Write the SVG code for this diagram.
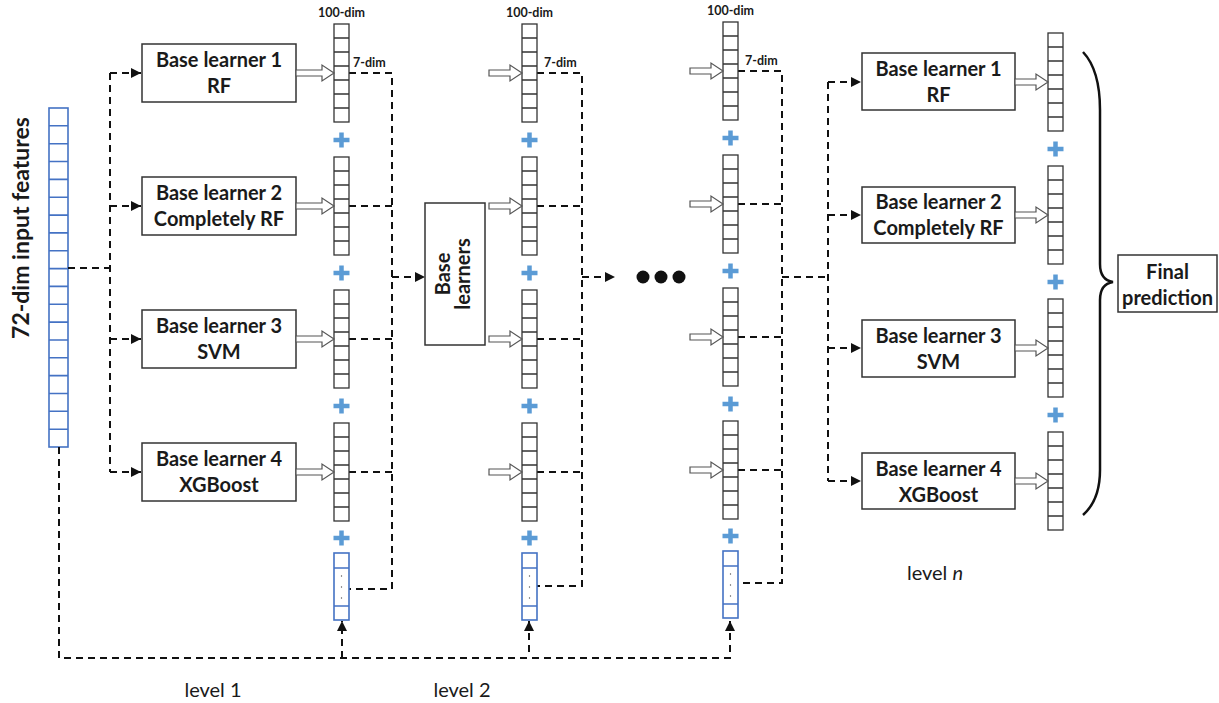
<svg xmlns="http://www.w3.org/2000/svg" xmlns:xlink="http://www.w3.org/1999/xlink" width="1219" height="703" viewBox="0 0 1219 703">
<style>
.t{font-family:Lato,"Liberation Sans",sans-serif;font-weight:bold;fill:#1a1a1a}
.bt{font-family:Lato,"Liberation Sans",sans-serif;font-weight:bold;fill:#1a1a1a;font-size:20px;text-anchor:middle}
.sm{font-family:Lato,"Liberation Sans",sans-serif;font-weight:bold;fill:#1a1a1a;font-size:12.5px}
.box{fill:#fff;stroke:#333;stroke-width:1.5}
.cell{fill:#fff;stroke:#333;stroke-width:1.3}
.bcell{fill:#fff;stroke:#4472C4;stroke-width:1.6}
.dash{fill:none;stroke:#111;stroke-width:2;stroke-dasharray:7,5}
.ha{fill:#fff;stroke:#555;stroke-width:1.2}
.plus{stroke:#5B9BD5;stroke-width:4.5;fill:none}
.lvl{font-family:Lato,"Liberation Sans",sans-serif;font-size:20px;fill:#1a1a1a;text-anchor:middle}
</style>
<defs>
<marker id="ah" viewBox="0 0 10 10" refX="10" refY="5" markerWidth="5" markerHeight="5" orient="auto" markerUnits="strokeWidth">
<path d="M0,0L10,5L0,10z" fill="#111"/>
</marker>
<g id="vec">
<rect class="cell" x="0" y="0" width="15" height="98"/>
<path d="M0,14H15M0,28H15M0,42H15M0,56H15M0,70H15M0,84H15" stroke="#333" stroke-width="1.3"/>
</g>
<g id="bvec">
<rect class="bcell" x="0" y="0" width="15" height="67"/>
<path d="M0,15H15M0,53H15" stroke="#4472C4" stroke-width="1.6"/>
<circle cx="7.5" cy="23" r="0.7" fill="#555"/>
<circle cx="7.5" cy="34" r="0.7" fill="#555"/>
<circle cx="7.5" cy="45" r="0.7" fill="#555"/>
</g>
<path id="plus" class="plus" d="M-8,0H8M0,-7.5V7.5"/>
<polygon id="ha38" class="ha" points="0,-3 26,-3 26,-8 38,0 26,8 26,3 0,3"/>
<polygon id="ha33" class="ha" points="0,-3 21,-3 21,-8 33,0 21,8 21,3 0,3"/>
</defs>

<g id="input-vector">
<rect class="bcell" x="49" y="108" width="19" height="339"/>
<path d="M49,125.8H68M49,143.7H68M49,161.5H68M49,179.4H68M49,197.2H68M49,215.1H68M49,232.9H68M49,250.7H68M49,268.6H68M49,286.4H68M49,304.3H68M49,322.1H68M49,340H68M49,357.8H68M49,375.6H68M49,393.5H68M49,411.3H68M49,429.2H68" stroke="#4472C4" stroke-width="1.6"/>
<text class="t" font-size="23" text-anchor="middle" transform="translate(29,228) rotate(-90)">72-dim input features</text>
</g>

<g id="connectors">
<path class="dash" d="M68,268H110M110,73V472"/>
<path class="dash" marker-end="url(#ah)" d="M110,73H141"/>
<path class="dash" marker-end="url(#ah)" d="M110,206H141"/>
<path class="dash" marker-end="url(#ah)" d="M110,339H141"/>
<path class="dash" marker-end="url(#ah)" d="M110,472H141"/>
<path class="dash" d="M349,73H392V589H349M349,206H392M349,339H392M349,472H392"/>
<path class="dash" marker-end="url(#ah)" d="M392,277H425"/>
<path class="dash" d="M537,73H582V586H537M537,206H582M537,339H582M537,472H582"/>
<path class="dash" marker-end="url(#ah)" d="M582,277H615"/>
<path class="dash" d="M738,71H782V583H738M738,204H782M738,337H782M738,470H782"/>
<path class="dash" d="M782,277H828M828,82V481"/>
<path class="dash" marker-end="url(#ah)" d="M828,82H861"/>
<path class="dash" marker-end="url(#ah)" d="M828,215H861"/>
<path class="dash" marker-end="url(#ah)" d="M828,348H861"/>
<path class="dash" marker-end="url(#ah)" d="M828,481H861"/>
<path class="dash" marker-end="url(#ah)" d="M59,447V658H730V621"/>
<path class="dash" marker-end="url(#ah)" d="M342,658V621"/>
<path class="dash" marker-end="url(#ah)" d="M529,652V621"/>
</g>

<g id="level1-learner1"><rect class="box" x="142" y="44" width="154" height="58"/><text class="bt" x="219" y="67">Base learner 1</text><text class="bt" x="219" y="93">RF</text></g>
<g id="level1-learner2"><rect class="box" x="142" y="177" width="154" height="58"/><text class="bt" x="219" y="200">Base learner 2</text><text class="bt" x="219" y="226">Completely RF</text></g>
<g id="level1-learner3"><rect class="box" x="142" y="310" width="154" height="58"/><text class="bt" x="219" y="333">Base learner 3</text><text class="bt" x="219" y="359">SVM</text></g>
<g id="level1-learner4"><rect class="box" x="142" y="443" width="154" height="58"/><text class="bt" x="219" y="466">Base learner 4</text><text class="bt" x="219" y="492">XGBoost</text></g>

<g id="level1-vectors">
<text class="sm" text-anchor="middle" x="341.5" y="17">100-dim</text>
<text class="sm" x="353" y="67">7-dim</text>
<use href="#vec" x="334" y="24"/><use href="#vec" x="334" y="157"/><use href="#vec" x="334" y="290"/><use href="#vec" x="334" y="423"/>
<use href="#plus" x="341.5" y="140"/><use href="#plus" x="341.5" y="273"/><use href="#plus" x="341.5" y="406"/><use href="#plus" x="341.5" y="538"/>
<use href="#bvec" x="334" y="553"/>
<use href="#ha38" x="296" y="73"/><use href="#ha38" x="296" y="206"/><use href="#ha38" x="296" y="339"/><use href="#ha38" x="296" y="472"/>
</g>

<g id="level2-learners"><rect class="box" x="425" y="203" width="60" height="142"/>
<text class="bt" transform="translate(450,274) rotate(-90)">Base</text>
<text class="bt" transform="translate(470,274) rotate(-90)">learners</text></g>

<g id="level2-vectors">
<text class="sm" text-anchor="middle" x="529.5" y="17">100-dim</text>
<text class="sm" x="544" y="67">7-dim</text>
<use href="#vec" x="522" y="24"/><use href="#vec" x="522" y="157"/><use href="#vec" x="522" y="290"/><use href="#vec" x="522" y="423"/>
<use href="#plus" x="529.5" y="140"/><use href="#plus" x="529.5" y="273"/><use href="#plus" x="529.5" y="406"/><use href="#plus" x="529.5" y="538"/>
<use href="#bvec" x="522" y="553"/>
<use href="#ha33" x="489" y="73"/><use href="#ha33" x="489" y="206"/><use href="#ha33" x="489" y="339"/><use href="#ha33" x="489" y="472"/>
</g>

<g id="ellipsis"><circle cx="643" cy="277" r="6.5" fill="#111"/><circle cx="661" cy="277" r="6.5" fill="#111"/><circle cx="679" cy="277" r="6.5" fill="#111"/></g>

<g id="level3-vectors">
<text class="sm" text-anchor="middle" x="730.5" y="15">100-dim</text>
<text class="sm" x="745" y="65">7-dim</text>
<use href="#vec" x="723" y="22"/><use href="#vec" x="723" y="155"/><use href="#vec" x="723" y="288"/><use href="#vec" x="723" y="421"/>
<use href="#plus" x="730.5" y="138"/><use href="#plus" x="730.5" y="271"/><use href="#plus" x="730.5" y="404"/><use href="#plus" x="730.5" y="536"/>
<use href="#bvec" x="723" y="551"/>
<use href="#ha33" x="690" y="71"/><use href="#ha33" x="690" y="204"/><use href="#ha33" x="690" y="337"/><use href="#ha33" x="690" y="470"/>
</g>

<g id="leveln-learner1"><rect class="box" x="862" y="53" width="153" height="57"/><text class="bt" x="938.5" y="76">Base learner 1</text><text class="bt" x="938.5" y="102">RF</text></g>
<g id="leveln-learner2"><rect class="box" x="862" y="187" width="153" height="56"/><text class="bt" x="938.5" y="209">Base learner 2</text><text class="bt" x="938.5" y="235">Completely RF</text></g>
<g id="leveln-learner3"><rect class="box" x="862" y="320" width="153" height="57"/><text class="bt" x="938.5" y="343">Base learner 3</text><text class="bt" x="938.5" y="369">SVM</text></g>
<g id="leveln-learner4"><rect class="box" x="862" y="453" width="153" height="56"/><text class="bt" x="938.5" y="476">Base learner 4</text><text class="bt" x="938.5" y="502">XGBoost</text></g>

<g id="leveln-vectors">
<use href="#vec" x="1048" y="33"/><use href="#vec" x="1048" y="166"/><use href="#vec" x="1048" y="299"/><use href="#vec" x="1048" y="432"/>
<use href="#plus" x="1055.5" y="149"/><use href="#plus" x="1055.5" y="282"/><use href="#plus" x="1055.5" y="415"/>
<use href="#ha33" x="1015" y="82"/><use href="#ha33" x="1015" y="215"/><use href="#ha33" x="1015" y="348"/><use href="#ha33" x="1015" y="481"/>
</g>

<g id="brace"><path d="M1083,52Q1100,70 1100,110L1100,264Q1100,280 1113,282Q1100,284 1100,300L1100,470Q1100,500 1083,515" fill="none" stroke="#111" stroke-width="2.5"/></g>

<g id="final-prediction"><rect class="box" x="1118" y="255" width="99" height="57"/><text class="bt" x="1167.5" y="279">Final</text><text class="bt" x="1167.5" y="305">prediction</text></g>

<g id="labels">
<text class="lvl" x="213" y="697">level 1</text>
<text class="lvl" x="462" y="697">level 2</text>
<text class="lvl" x="935" y="580">level <tspan font-style="italic">n</tspan></text>
</g>
</svg>
